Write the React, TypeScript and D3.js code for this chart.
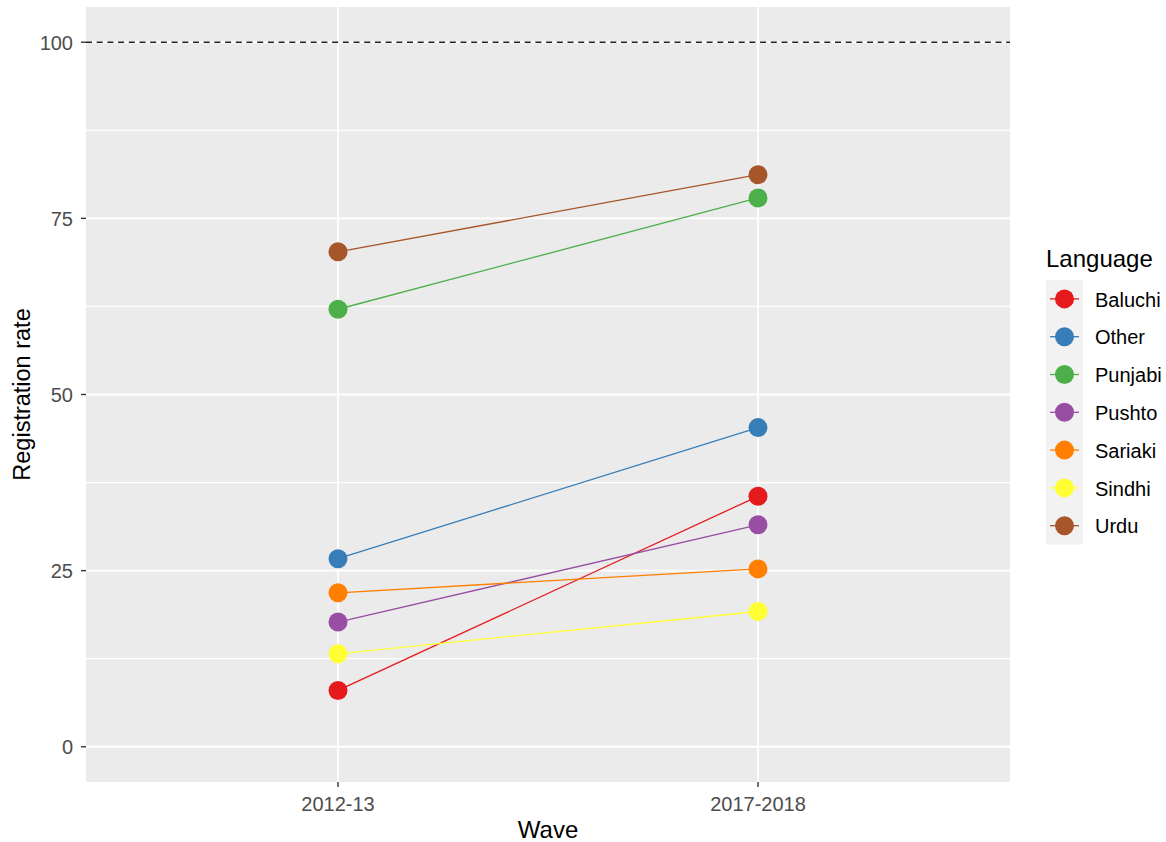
import React, { useEffect, useRef } from 'react';
import * as d3 from 'd3';

const waves = ['2012-13', '2017-2018'];
const languages = ['Baluchi', 'Other', 'Punjabi', 'Pushto', 'Sariaki', 'Sindhi', 'Urdu'];
const colors = ['#E41A1C', '#377EB8', '#4DAF4A', '#984EA3', '#FF7F00', '#FFFF33', '#A65628'];
const rates2012 = [8.0, 26.7, 62.1, 17.7, 21.85, 13.2, 70.25];
const rates2017 = [35.55, 45.3, 77.9, 31.5, 25.25, 19.2, 81.2];
const yTicks = [0, 25, 50, 75, 100];
const yMinor = [12.5, 37.5, 62.5, 87.5];

const width = 1166;
const height = 842;

const App: React.FC = () => {
  const svgRef = useRef<SVGSVGElement>(null);

  useEffect(() => {
    if (!svgRef.current) return;
    const svg = d3.select(svgRef.current);
    svg.selectAll('*').remove();

    const panel = { left: 86, right: 1010, top: 7, bottom: 782 };
    const font = '"Liberation Sans", Arial, sans-serif';

    // ggplot discrete expansion: 0.6 of a step on each side
    const x = d3
      .scalePoint<string>()
      .domain(waves)
      .range([panel.left, panel.right])
      .padding(0.6);

    const y = d3.scaleLinear().domain([-5, 105]).range([panel.bottom, panel.top]);

    svg.append('rect')
      .attr('width', width)
      .attr('height', height)
      .attr('fill', '#ffffff');

    svg.append('rect')
      .attr('x', panel.left)
      .attr('y', panel.top)
      .attr('width', panel.right - panel.left)
      .attr('height', panel.bottom - panel.top)
      .attr('fill', '#ebebeb');

    // minor grid
    svg.append('g')
      .selectAll('line')
      .data(yMinor)
      .enter()
      .append('line')
      .attr('x1', panel.left)
      .attr('x2', panel.right)
      .attr('y1', (d) => y(d))
      .attr('y2', (d) => y(d))
      .attr('stroke', '#ffffff')
      .attr('stroke-width', 1.3);

    // major grid
    svg.append('g')
      .selectAll('line')
      .data(yTicks)
      .enter()
      .append('line')
      .attr('x1', panel.left)
      .attr('x2', panel.right)
      .attr('y1', (d) => y(d))
      .attr('y2', (d) => y(d))
      .attr('stroke', '#ffffff')
      .attr('stroke-width', 1.8);

    svg.append('g')
      .selectAll('line')
      .data(waves)
      .enter()
      .append('line')
      .attr('x1', (d) => x(d)!)
      .attr('x2', (d) => x(d)!)
      .attr('y1', panel.top)
      .attr('y2', panel.bottom)
      .attr('stroke', '#ffffff')
      .attr('stroke-width', 1.8);

    // reference line at 100
    svg.append('line')
      .attr('x1', panel.left)
      .attr('x2', panel.right)
      .attr('y1', y(100))
      .attr('y2', y(100))
      .attr('stroke', '#222222')
      .attr('stroke-width', 1.5)
      .attr('stroke-dasharray', '6,4.7');

    // y axis
    const yAxis = svg.append('g');
    yTicks.forEach((t) => {
      yAxis.append('line')
        .attr('x1', panel.left - 5)
        .attr('x2', panel.left)
        .attr('y1', y(t))
        .attr('y2', y(t))
        .attr('stroke', '#333333')
        .attr('stroke-width', 1.4);
      yAxis.append('text')
        .attr('x', panel.left - 13)
        .attr('y', y(t))
        .attr('dy', '0.38em')
        .attr('text-anchor', 'end')
        .attr('fill', '#4d4d4d')
        .attr('font-family', font)
        .attr('font-size', '20px')
        .text(t);
    });

    // x axis
    const xAxis = svg.append('g');
    waves.forEach((w) => {
      xAxis.append('line')
        .attr('x1', x(w)!)
        .attr('x2', x(w)!)
        .attr('y1', panel.bottom)
        .attr('y2', panel.bottom + 5)
        .attr('stroke', '#333333')
        .attr('stroke-width', 1.4);
      xAxis.append('text')
        .attr('x', x(w)!)
        .attr('y', 811)
        .attr('text-anchor', 'middle')
        .attr('fill', '#4d4d4d')
        .attr('font-family', font)
        .attr('font-size', '20px')
        .text(w);
    });

    svg.append('text')
      .attr('x', (panel.left + panel.right) / 2)
      .attr('y', 838)
      .attr('text-anchor', 'middle')
      .attr('fill', '#000000')
      .attr('font-family', font)
      .attr('font-size', '24px')
      .text('Wave');

    svg.append('text')
      .attr('transform', `translate(30,${(panel.top + panel.bottom) / 2}) rotate(-90)`)
      .attr('text-anchor', 'middle')
      .attr('fill', '#000000')
      .attr('font-family', font)
      .attr('font-size', '23.5px')
      .text('Registration rate');

    // lines and points
    const series = languages.map((lang, i) => ({
      lang,
      color: colors[i],
      values: [rates2012[i], rates2017[i]],
    }));

    const line = d3
      .line<number>()
      .x((_, i) => x(waves[i])!)
      .y((d) => y(d));

    svg.append('g')
      .selectAll('path')
      .data(series)
      .enter()
      .append('path')
      .attr('d', (d) => line(d.values))
      .attr('fill', 'none')
      .attr('stroke', (d) => d.color)
      .attr('stroke-width', 1.3);

    series.forEach((s) => {
      svg.append('g')
        .selectAll('circle')
        .data(s.values)
        .enter()
        .append('circle')
        .attr('cx', (_, i) => x(waves[i])!)
        .attr('cy', (d) => y(d))
        .attr('r', 9.5)
        .attr('fill', s.color);
    });

    // legend
    const lg = svg.append('g').attr('transform', 'translate(1046,0)');
    lg.append('text')
      .attr('x', 0)
      .attr('y', 267)
      .attr('fill', '#000000')
      .attr('font-family', font)
      .attr('font-size', '24px')
      .text('Language');

    const keyH = 37.8;
    const keyTop = 280;
    lg.append('rect')
      .attr('x', 0)
      .attr('y', keyTop)
      .attr('width', 37)
      .attr('height', keyH * languages.length)
      .attr('fill', '#f2f2f2');

    series.forEach((s, i) => {
      const cy = keyTop + keyH * i + keyH / 2;
      lg.append('line')
        .attr('x1', 4)
        .attr('x2', 33)
        .attr('y1', cy)
        .attr('y2', cy)
        .attr('stroke', s.color)
        .attr('stroke-width', 1.3);
      lg.append('circle')
        .attr('cx', 18.5)
        .attr('cy', cy)
        .attr('r', 9.5)
        .attr('fill', s.color);
      lg.append('text')
        .attr('x', 49)
        .attr('y', cy)
        .attr('dy', '0.38em')
        .attr('fill', '#000000')
        .attr('font-family', font)
        .attr('font-size', '20px')
        .text(s.lang);
    });
  }, []);

  return (
    <svg
      ref={svgRef}
      width={width}
      height={height}
      style={{ position: 'absolute', left: 0, top: 0 }}
    />
  );
};

export default App;
